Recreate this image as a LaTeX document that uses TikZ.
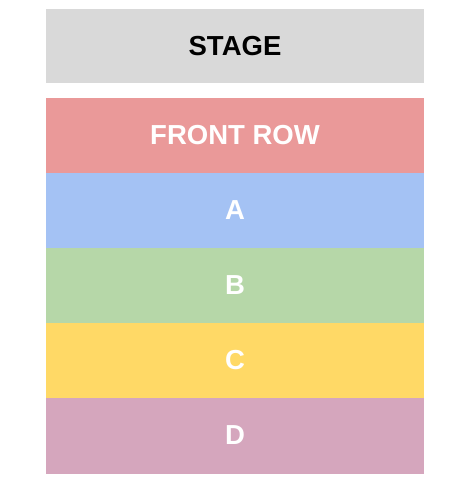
\documentclass[tikz,border=0pt]{standalone}
\usepackage{fontspec}
\setmainfont{Liberation Sans}
\usetikzlibrary{positioning}

\definecolor{stagegray}{HTML}{D9D9D9}
\definecolor{frontred}{HTML}{EA9999}
\definecolor{rowblue}{HTML}{A4C2F4}
\definecolor{rowgreen}{HTML}{B6D7A8}
\definecolor{rowyellow}{HTML}{FFD966}
\definecolor{rowpink}{HTML}{D5A6BD}

\begin{document}
\begin{tikzpicture}[x=1pt, y=-1pt,
  band/.style={rectangle, fill=#1, draw=#1, line width=0.6pt,
    minimum width=377.4pt, minimum height=75pt, inner sep=0pt, outer sep=0pt,
    font=\fontsize{27.5}{30}\selectfont\bfseries, text=white},
  node distance=0pt]

\useasboundingbox (0,0) rectangle (470,483);

% Escenario
\node[band=stagegray, text=black, minimum height=73.4pt] (stage) at (235,46) {STAGE};

% Filas de asientos
\node[band=frontred] (front) at (235,135.5) {FRONT ROW};
\node[band=rowblue, below=of front] (rowA) {A};
\node[band=rowgreen, below=of rowA] (rowB) {B};
\node[band=rowyellow, below=of rowB] (rowC) {C};
\node[band=rowpink, below=of rowC] (rowD) {D};

\end{tikzpicture}
\end{document}
